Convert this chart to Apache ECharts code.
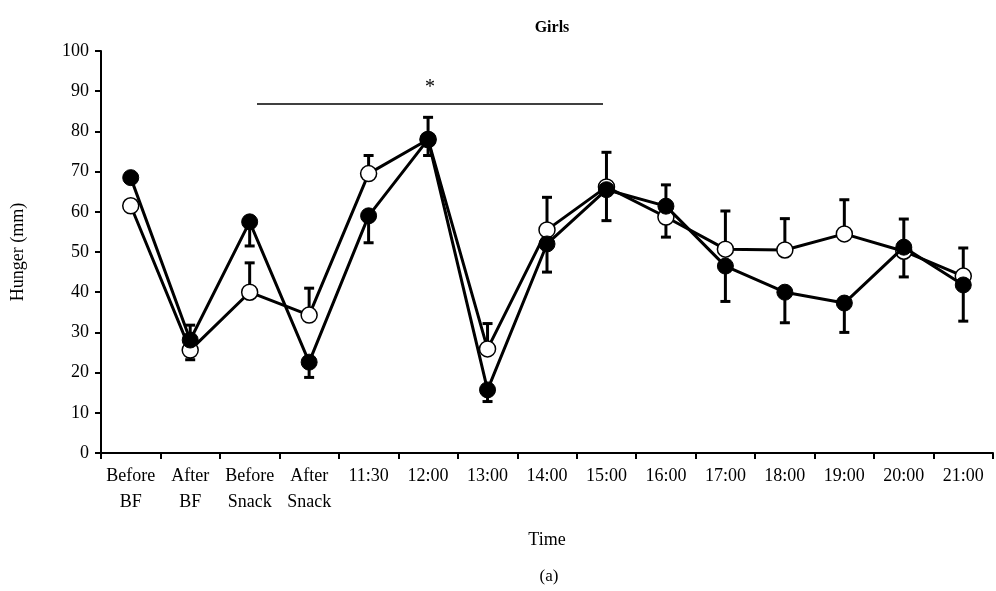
<!DOCTYPE html>
<html><head><meta charset="utf-8">
<script src="https://cdn.jsdelivr.net/npm/echarts@6/dist/echarts.min.js"></script>
<style>html,body{margin:0;padding:0;background:#fff}#c{width:996px;height:591px}</style>
</head><body><div id="c"></div>
<script>
var categories = ['Before\nBF','After\nBF','Before\nSnack','After\nSnack','11:30','12:00','13:00','14:00','15:00','16:00','17:00','18:00','19:00','20:00','21:00'];
var filledValues = [68.5, 28.1, 57.5, 22.6, 59.0, 78.0, 15.7, 52.0, 65.5, 61.4, 46.5, 40.0, 37.3, 51.2, 41.8];
var openValues   = [61.5, 25.6, 40.0, 34.3, 69.5, 78.0, 25.9, 55.5, 66.2, 58.7, 50.7, 50.5, 54.5, 50.2, 44.0];
// error bar ends
var filledErrEnd = [null, 23.2, 51.5, 18.8, 52.3, 74.0, 12.8, 45.0, 57.8, 66.7, 37.7, 32.4, 30.0, 43.8, 32.8];
var openErrEnd   = [null, 31.8, 47.3, 41.0, 74.0, 83.5, 32.2, 63.6, 74.8, 53.7, 60.2, 58.3, 63.0, 58.2, 51.0];
var yTicks = [0,10,20,30,40,50,60,70,80,90,100];
var sigStart = 2, sigEnd = 8, sigLevel = 86.8;

var font = 'Liberation Serif';
function errData(vals, ends){
  var d=[]; for(var i=0;i<vals.length;i++){ if(ends[i]!=null) d.push([i, vals[i], ends[i]]); } return d;
}
function errRender(params, api){
  var i=api.value(0);
  var p0=api.coord([i, api.value(1)]);
  var p1=api.coord([i, api.value(2)]);
  var w=5;
  return {type:'group', children:[
    {type:'line', shape:{x1:p0[0],y1:p0[1],x2:p1[0],y2:p1[1]}, style:{stroke:'#000',lineWidth:3}},
    {type:'line', shape:{x1:p1[0]-w,y1:p1[1],x2:p1[0]+w,y2:p1[1]}, style:{stroke:'#000',lineWidth:3}}
  ]};
}
var chart = echarts.init(document.getElementById('c'));
chart.setOption({
  animation:false,
  backgroundColor:'#fff',
  title:{text:'Girls', left:547, top:15, textAlign:'center', textStyle:{fontFamily:font, fontWeight:'bold', fontSize:16, color:'#000'}},
  grid:{left:101, right:3, top:51, bottom:138},
  xAxis:{
    type:'category', data:categories, boundaryGap:true,
    name:'Time', nameLocation:'middle', nameGap:78,
    nameTextStyle:{fontFamily:font, fontSize:18, color:'#000'},
    axisLine:{lineStyle:{color:'#000', width:2}},
    axisTick:{show:true, inside:false, length:6, lineStyle:{color:'#000', width:2}},
    axisLabel:{interval:0, fontFamily:font, fontSize:18, color:'#000', lineHeight:26, margin:10}
  },
  yAxis:{
    type:'value', min:0, max:100, interval:10,
    name:'Hunger (mm)', nameLocation:'middle', nameGap:74, nameRotate:90,
    nameTextStyle:{fontFamily:font, fontSize:18, color:'#000'},
    axisLine:{show:true, lineStyle:{color:'#000', width:2}},
    axisTick:{show:true, length:6, lineStyle:{color:'#000', width:2}},
    splitLine:{show:false},
    axisLabel:{fontFamily:font, fontSize:18, color:'#000', margin:12,
      formatter:function(v){ return yTicks.indexOf(v)>=0 ? String(v) : ''; }}
  },
  graphic:[{type:'text', x:549, y:568, style:{text:'(a)', fontFamily:font, fontSize:17, fill:'#000', align:'center'}}],
  series:[
    {type:'custom', renderItem:errRender, data:errData(openValues, openErrEnd), z:1, encode:{x:0,y:[1,2]}},
    {type:'custom', renderItem:errRender, data:errData(filledValues, filledErrEnd), z:1, encode:{x:0,y:[1,2]}},
    {type:'line', data:openValues, symbol:'circle', symbolSize:16, z:2,
      lineStyle:{color:'#000', width:3}, itemStyle:{color:'#fff', borderColor:'#000', borderWidth:1.5},
      markLine:{silent:true, symbol:'none', lineStyle:{color:'#000', width:1.5, type:'solid'},
        label:{show:true, position:'middle', formatter:'*', fontFamily:font, fontSize:20, color:'#000', distance:6},
        data:[[{coord:[sigStart, sigLevel], x:257}, {coord:[sigEnd, sigLevel], x:603}]]}
    },
    {type:'line', data:filledValues, symbol:'circle', symbolSize:16, z:3,
      lineStyle:{color:'#000', width:3}, itemStyle:{color:'#000', borderColor:'#000', borderWidth:1}}
  ]
});
</script>
</body></html>
